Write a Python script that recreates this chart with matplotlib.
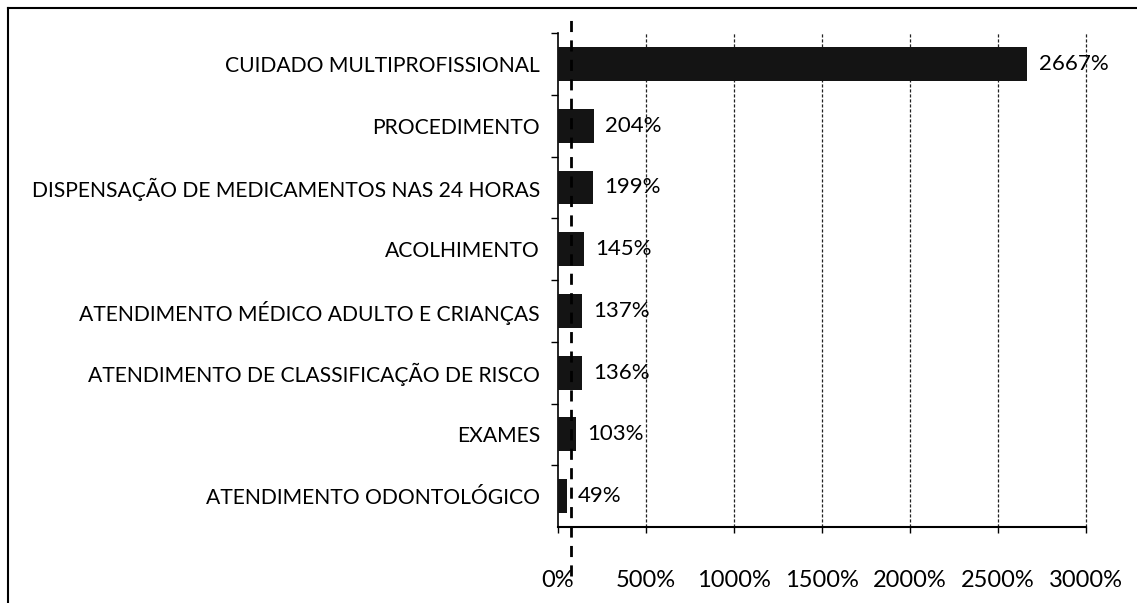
#!/usr/bin/env python3
"""Barras horizontais: variação percentual por tipo de atendimento."""

import matplotlib.pyplot as plt
from matplotlib.lines import Line2D
from matplotlib.ticker import FuncFormatter, MultipleLocator

categorias = [
    "CUIDADO MULTIPROFISSIONAL",
    "PROCEDIMENTO",
    "DISPENSAÇÃO DE MEDICAMENTOS NAS 24 HORAS",
    "ACOLHIMENTO",
    "ATENDIMENTO MÉDICO ADULTO E CRIANÇAS",
    "ATENDIMENTO DE CLASSIFICAÇÃO DE RISCO",
    "EXAMES",
    "ATENDIMENTO ODONTOLÓGICO",
]
valores = [2667, 204, 199, 145, 137, 136, 103, 49]
linha_ref = 75  # linha tracejada grossa perto do 0%

plt.rcParams["font.family"] = ["Lato", "DejaVu Sans"]

fig = plt.figure(figsize=(11.37, 6.03), dpi=100)
ax = fig.add_axes([0.4908, 0.126, 0.4644, 0.819])

n = len(categorias)
ypos = list(range(n))[::-1]
ax.barh(ypos, valores, height=0.55, color="#141414", zorder=3)
for y, v in zip(ypos, valores):
    ax.text(v + 65, y, f"{v}%", va="center", ha="left", fontsize=16, zorder=4)

ax.set_xlim(0, 3000)
ax.set_ylim(-0.5, n - 0.5)
ax.xaxis.set_major_locator(MultipleLocator(500))
ax.xaxis.set_major_formatter(FuncFormatter(lambda x, _: f"{x:.0f}%"))
for xg in range(500, 3001, 500):
    ax.axvline(xg, linestyle=(0, (2.5, 1.5)), color="#222222", linewidth=0.9,
               zorder=1, clip_on=False)

# rótulos no centro, ticks entre categorias (estilo Excel)
ax.set_yticks(ypos)
ax.set_yticklabels(categorias, fontsize=15.2)
ax.tick_params(axis="y", length=0, pad=13)
ax.set_yticks([i + 0.5 for i in range(n)], minor=True)
ax.tick_params(axis="y", which="minor", length=5, width=1)
ax.tick_params(axis="x", length=4, width=1, labelsize=17, pad=27)

for lado in ["top", "right"]:
    ax.spines[lado].set_visible(False)
ax.spines["left"].set_linewidth(1.2)
ax.spines["bottom"].set_linewidth(1.5)

# linha tracejada grossa que passa do eixo
ax.plot([linha_ref, linha_ref], [-0.1, 1.04], transform=ax.get_xaxis_transform(),
        color="black", linewidth=2, linestyle=(0, (4, 3)), clip_on=False, zorder=5)

# moldura da figura (só topo e esquerda aparecem)
fig.add_artist(Line2D([8 / 1137, 8 / 1137], [0, 1 - 8 / 603], color="black", linewidth=1.5))
fig.add_artist(Line2D([8 / 1137, 1], [1 - 8 / 603, 1 - 8 / 603], color="black", linewidth=1.5))

fig.savefig("out.png", dpi=100)
